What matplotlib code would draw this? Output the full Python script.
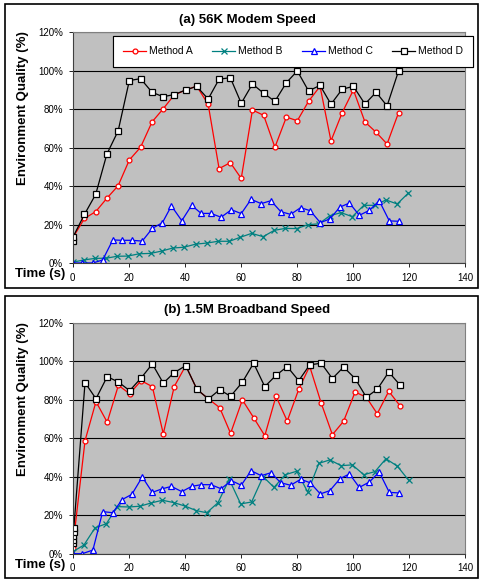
import matplotlib
matplotlib.use('Agg')
import matplotlib.pyplot as plt
from matplotlib.patches import Rectangle
from matplotlib.ticker import FuncFormatter, MultipleLocator

plt.rcParams['font.family'] = ['Liberation Sans', 'DejaVu Sans']

# ---- data (time in s, quality in %) ----
# (a) 56K modem
a_t_A = [0, 4.2, 8.2, 12.2, 16.2, 20.2, 24.2, 28.3, 32.2, 36.2, 40.3, 44.2, 48.3, 52.2, 56.2,
         60.1, 64.1, 68.1, 72.1, 76.2, 80.1, 84.1, 88.2, 92.1, 96.1, 100.1, 104.2, 108.2, 112.1, 116.2]
a_A = [13, 23.2, 26.7, 33.7, 40.2, 53.6, 60.2, 73.4, 80.1, 87.4, 90, 92, 82.6, 49.1, 52.2,
       44, 79.6, 76.8, 60.2, 75.9, 74, 84.1, 91.9, 63.5, 78.2, 90, 73.4, 68, 61.9, 78.2]
a_t_D = [0, 0.1] + a_t_A[1:]
a_D = [11.5, 13.5, 25.3, 35.7, 56.7, 68.7, 94.9, 95.9, 88.8, 86.5, 87.6, 90, 91.9, 85.3, 95.6,
       96.4, 83.1, 93.1, 88.3, 84.1, 93.8, 99.9, 89.5, 92.4, 82.6, 90.4, 91.9, 82.7, 88.8, 81.7, 99.9]
t_C = [0, 3.4, 7.2, 10.7, 14.3, 17.6, 21.1, 24.8, 28.4, 32.0, 35.2, 38.9, 42.4, 45.8, 49.3, 52.9, 56.6,
       60.1, 63.6, 67.2, 70.7, 74.2, 77.7, 81.3, 84.7, 88.3, 91.7, 95.3, 98.7, 102.2, 105.8, 109.3, 112.9, 116.4]
a_C = [0, 0, 0, 1.6, 12, 11.8, 11.8, 11.4, 18, 21, 29.7, 22, 30, 25.8, 25.8, 23.8, 27.7,
       25.7, 33.1, 30.9, 32.4, 26.7, 25.3, 28.8, 27.2, 21, 22.9, 29.1, 31.2, 24.8, 27.4, 32.4, 21.9, 21.7]
a_t_B = [0, 4, 8, 12, 15.8, 19.7, 23.7, 27.8, 31.7, 35.7, 39.7, 43.8, 47.9, 51.9, 55.9, 59.8,
         63.8, 67.9, 71.9, 75.8, 79.9, 83.8, 87.8, 91.7, 95.7, 99.7, 103.8, 107.8, 111.7, 115.7, 119.7]
a_B = [0.4, 1.6, 2.4, 2.5, 3.5, 3.6, 4.8, 5, 6.2, 7.8, 8.2, 9.8, 10.4, 11.3, 11.3, 13.4,
       15.4, 13.7, 17, 18, 17.9, 19.9, 20.4, 24.6, 26.2, 24.1, 30, 30, 32.8, 30.7, 36.4]

# (b) 1.5M broadband
b_t_A = [0, 4.4, 8.3, 12.3, 16.3, 20.3, 24.4, 28.4, 32.3, 36.2, 40.3, 44.3, 48.4, 52.4, 56.3,
         60.5, 64.5, 68.5, 72.5, 76.5, 80.6, 84.5, 88.6, 92.6, 96.6, 100.7, 104.7, 108.6, 112.7, 116.8]
b_A = [3, 58.8, 79.1, 68.4, 87.6, 83.2, 90, 86.9, 62.4, 86.9, 97.8, 85.5, 80.5, 76, 62.6,
       80, 70.8, 61.4, 81.9, 69, 85.5, 97.5, 78.4, 61.9, 68.9, 84.1, 81.4, 72.8, 84.5, 76.8]
b_t_D = [0, 0.1, 0.2, 0.3, 0.4] + b_t_A[1:]
b_D = [5.5, 7.1, 9.2, 11.1, 13.2, 89, 80.6, 92.1, 89.3, 84.8, 91.4, 98.7, 88.7, 94.2, 97.8,
       85.5, 80.5, 85.3, 81.9, 89.2, 99.1, 86.9, 92.8, 97.3, 90, 98.2, 99.1, 91.1, 97.1, 91.1,
       81.4, 85.5, 94.5, 87.6]
b_C = [0, 0, 1.9, 21.9, 21.3, 28.1, 30.9, 39.9, 31.9, 33.8, 35, 32.3, 35, 35.9, 35.9, 33.8, 38,
       35.6, 43.2, 40.6, 42.1, 36.9, 35.6, 38.7, 36.9, 31.1, 32.8, 39, 41.5, 34.5, 37.3, 42.5, 31.9, 31.6]
b_t_B = [0, 4, 8, 12, 15.9, 20, 24, 28, 32, 36, 40, 44.1, 47.8, 51.8, 55.8, 59.9,
         63.8, 67.9, 71.8, 75.8, 79.9, 83.8, 87.8, 91.7, 95.7, 99.7, 103.8, 107.8, 111.7, 115.8, 119.8]
b_B = [1, 4.5, 13.5, 15.6, 24.5, 24.3, 24.7, 26.4, 27.8, 26.6, 24.8, 22.4, 21.3, 26.5, 38.7, 25.9,
       26.9, 40.1, 34.5, 41.1, 42.9, 32.1, 47, 48.8, 45.8, 46.2, 41.1, 42.7, 49.4, 45.5, 38.2]

panels = [
    ('(a) 56K Modem Speed', (a_t_A, a_A), (a_t_B, a_B), (t_C, a_C), (a_t_D, a_D)),
    ('(b) 1.5M Broadband Speed', (b_t_A, b_A), (b_t_B, b_B), (t_C, b_C), (b_t_D, b_D)),
]

W, H = 479, 580
fig = plt.figure(figsize=(W / 100, H / 100), dpi=100)

# panel frames, plot areas (pixels from top-left)
frames = [(5, 4, 473, 284), (5, 296, 473, 282)]
areas = [(72.7, 32.3, 392.6, 230.7), (72.7, 323.0, 392.6, 230.7)]

for (title, A, B, C, D), fr, ar in zip(panels, frames, areas):
    fx, fy, fw, fh = fr
    fig.patches.append(Rectangle((fx / W, 1 - (fy + fh) / H), fw / W, fh / H,
                                 transform=fig.transFigure, fill=False,
                                 edgecolor='black', linewidth=1.2))
    x0, y0, w, h = ar
    ax = fig.add_axes([x0 / W, 1 - (y0 + h) / H, w / W, h / H])
    ax.set_facecolor('#C0C0C0')
    ax.set_xlim(0, 140)
    ax.set_ylim(0, 120)
    ax.xaxis.set_major_locator(MultipleLocator(20))
    ax.yaxis.set_major_locator(MultipleLocator(20))
    ax.yaxis.set_major_formatter(FuncFormatter(lambda v, p: '%d%%' % v))
    ax.grid(axis='y', color='black', linewidth=0.8)
    ax.set_axisbelow(True)
    for s in ['top', 'right']:
        ax.spines[s].set_color('#808080')
    for s in ['left', 'bottom']:
        ax.spines[s].set_color('#404040')
    for s in ax.spines.values():
        s.set_linewidth(0.8)
    ax.tick_params(labelsize=7, length=3, width=0.6, pad=4, colors='black')

    ax.plot(*A, color='red', lw=0.9, marker='o', ms=3.5, mfc='white', mec='red', mew=0.9,
            label='Method A')
    ax.plot(*B, color='#008080', lw=0.9, marker='x', ms=4, mew=0.9, label='Method B')
    ax.plot(*C, color='blue', lw=0.9, marker='^', ms=4.2, mfc='white', mec='blue', mew=0.9,
            label='Method C')
    ax.plot(*D, color='black', lw=0.9, marker='s', ms=4.5, mfc='white', mec='black', mew=0.9,
            label='Method D')

    leg = ax.legend(loc='upper left', ncol=4, fontsize=7.5, frameon=True, fancybox=False,
                    edgecolor='black', framealpha=1, borderpad=1.0, borderaxespad=0,
                    handlelength=2.2, columnspacing=1.9, handletextpad=0.25)
    leg.get_frame().set_linewidth(0.8)
    leg.set_bbox_to_anchor(((113 - x0) / w, 1 - (36 - y0) / h), transform=ax.transAxes)

    fig.text(247 / W, 1 - (y0 - 12.5) / H, title, ha='center', va='center',
             fontsize=9.5, fontweight='bold')
    ax.text(-0.127, 0.672, 'Environment Quality (%)', transform=ax.transAxes, rotation=90,
            ha='center', va='center', fontsize=9.5, fontweight='bold')
    fig.text(15 / W, 1 - (y0 + h + 11) / H, 'Time (s)', ha='left', va='center',
             fontsize=9.5, fontweight='bold')

fig.savefig('out.png', dpi=100)
